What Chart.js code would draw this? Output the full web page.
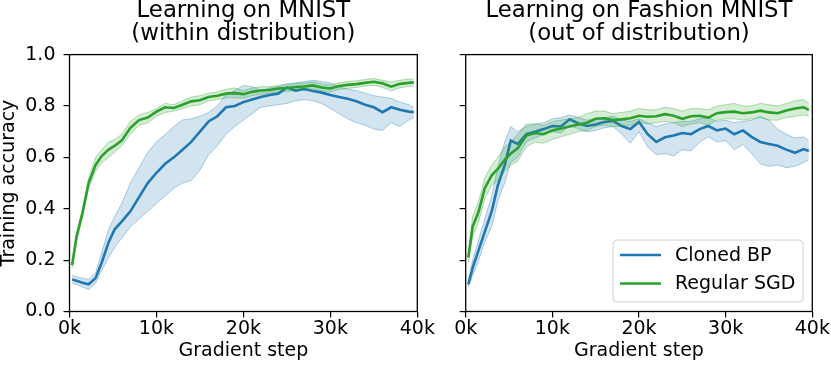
<!DOCTYPE html>
<html>
<head>
<meta charset="utf-8">
<script src="https://cdn.jsdelivr.net/npm/chart.js@4"></script>
<style>
  body { margin: 0; background: #fff; }
  #wrap { position: relative; width: 831px; height: 370px; }
  #wrap canvas { position: absolute; left: 0; top: 0; }
</style>
</head>
<body>
<div id="wrap">
  <canvas id="chart-mnist" width="831" height="370"></canvas>
  <canvas id="chart-fashion" width="831" height="370"></canvas>
</div>
<script>
// gradient steps (x), shared by both panels
var steps = [300, 800, 1500, 2200, 3000, 3700, 4500, 5200, 6000,
  7000, 8000, 9000, 10000, 11000, 12000, 13000, 14000, 15000, 16000,
  17000, 18000, 19000, 20000, 21000, 22000, 23000, 24000, 25000, 26000,
  27000, 28000, 29000, 30000, 31000, 32000, 33000, 34000, 35000, 36000,
  37000, 38000, 39000, 39600];

var xTicks = [0, 10000, 20000, 30000, 40000];
var yTicks = [0, 0.2, 0.4, 0.6, 0.8, 1.0];
var seriesNames = ['Cloned BP', 'Regular SGD'];

// MNIST - Cloned BP
var mnistBpMean = [0.125, 0.12, 0.112, 0.106, 0.13, 0.19, 0.27, 0.32, 0.35,
  0.39, 0.445, 0.50, 0.54, 0.575, 0.60, 0.63, 0.66, 0.70, 0.74,
  0.76, 0.795, 0.80, 0.815, 0.825, 0.835, 0.843, 0.848, 0.872, 0.86,
  0.866, 0.858, 0.852, 0.843, 0.835, 0.828, 0.818, 0.805, 0.795, 0.776,
  0.795, 0.785, 0.778, 0.776];
var mnistBpUpper = [0.14, 0.135, 0.13, 0.125, 0.15, 0.23, 0.32, 0.37, 0.42,
  0.50, 0.56, 0.62, 0.66, 0.69, 0.72, 0.745, 0.75, 0.76, 0.775,
  0.80, 0.845, 0.86, 0.88, 0.875, 0.86, 0.87, 0.875, 0.885, 0.89,
  0.895, 0.90, 0.895, 0.89, 0.875, 0.865, 0.86, 0.85, 0.84, 0.835,
  0.83, 0.815, 0.805, 0.795];
var mnistBpLower = [0.11, 0.105, 0.095, 0.085, 0.11, 0.16, 0.21, 0.25, 0.285,
  0.33, 0.36, 0.39, 0.42, 0.45, 0.48, 0.50, 0.51, 0.55, 0.61,
  0.645, 0.69, 0.72, 0.745, 0.77, 0.795, 0.80, 0.805, 0.81, 0.82,
  0.825, 0.82, 0.81, 0.79, 0.77, 0.75, 0.735, 0.725, 0.71, 0.705,
  0.735, 0.72, 0.745, 0.755];

// MNIST - Regular SGD
var mnistSgdMean = [0.18, 0.29, 0.385, 0.50, 0.57, 0.605, 0.63, 0.645, 0.665,
  0.715, 0.745, 0.755, 0.778, 0.795, 0.792, 0.805, 0.818, 0.822, 0.835,
  0.84, 0.848, 0.85, 0.846, 0.855, 0.86, 0.862, 0.868, 0.87, 0.874,
  0.876, 0.88, 0.872, 0.868, 0.878, 0.882, 0.885, 0.89, 0.894, 0.888,
  0.875, 0.886, 0.89, 0.892];
var mnistSgdUpper = [0.19, 0.30, 0.40, 0.52, 0.60, 0.63, 0.66, 0.67, 0.69,
  0.74, 0.765, 0.775, 0.79, 0.81, 0.805, 0.82, 0.835, 0.84, 0.85,
  0.855, 0.865, 0.87, 0.86, 0.87, 0.875, 0.875, 0.88, 0.885, 0.887,
  0.889, 0.893, 0.886, 0.882, 0.89, 0.895, 0.898, 0.903, 0.907, 0.90,
  0.893, 0.90, 0.905, 0.905];
var mnistSgdLower = [0.17, 0.27, 0.37, 0.48, 0.545, 0.58, 0.60, 0.62, 0.645,
  0.69, 0.725, 0.735, 0.76, 0.775, 0.78, 0.79, 0.80, 0.805, 0.82,
  0.825, 0.832, 0.832, 0.83, 0.84, 0.845, 0.85, 0.855, 0.856, 0.86,
  0.862, 0.866, 0.858, 0.854, 0.865, 0.868, 0.872, 0.877, 0.88, 0.873,
  0.858, 0.871, 0.876, 0.878];

// Fashion MNIST - Cloned BP
var fashionBpMean = [0.105, 0.17, 0.24, 0.31, 0.39, 0.49, 0.57, 0.665, 0.652,
  0.69, 0.70, 0.71, 0.722, 0.72, 0.748, 0.732, 0.722, 0.728, 0.738,
  0.742, 0.722, 0.71, 0.738, 0.69, 0.66, 0.678, 0.685, 0.695, 0.69,
  0.71, 0.722, 0.705, 0.712, 0.69, 0.705, 0.68, 0.66, 0.652, 0.645,
  0.63, 0.618, 0.632, 0.625];
var fashionBpUpper = [0.12, 0.20, 0.28, 0.36, 0.45, 0.56, 0.66, 0.72, 0.70,
  0.72, 0.73, 0.735, 0.75, 0.755, 0.765, 0.755, 0.745, 0.75, 0.755,
  0.76, 0.745, 0.74, 0.75, 0.735, 0.72, 0.73, 0.735, 0.74, 0.74,
  0.75, 0.755, 0.74, 0.745, 0.735, 0.74, 0.745, 0.76, 0.745, 0.71,
  0.69, 0.675, 0.68, 0.665];
var fashionBpLower = [0.095, 0.14, 0.20, 0.27, 0.33, 0.43, 0.50, 0.58, 0.60,
  0.66, 0.675, 0.69, 0.70, 0.695, 0.725, 0.71, 0.70, 0.705, 0.715,
  0.72, 0.69, 0.655, 0.70, 0.64, 0.61, 0.615, 0.605, 0.63, 0.625,
  0.66, 0.68, 0.66, 0.665, 0.63, 0.65, 0.615, 0.575, 0.565, 0.57,
  0.56, 0.565, 0.58, 0.59];

// Fashion MNIST - Regular SGD
var fashionSgdMean = [0.21, 0.33, 0.39, 0.48, 0.53, 0.555, 0.59, 0.615, 0.635,
  0.685, 0.695, 0.69, 0.705, 0.712, 0.72, 0.728, 0.735, 0.75, 0.752,
  0.745, 0.748, 0.752, 0.762, 0.758, 0.76, 0.768, 0.762, 0.75, 0.76,
  0.762, 0.755, 0.772, 0.776, 0.778, 0.772, 0.775, 0.782, 0.775, 0.772,
  0.782, 0.79, 0.795, 0.785];
var fashionSgdUpper = [0.23, 0.37, 0.43, 0.52, 0.57, 0.60, 0.64, 0.66, 0.69,
  0.73, 0.73, 0.725, 0.74, 0.745, 0.75, 0.755, 0.77, 0.78, 0.78,
  0.77, 0.775, 0.78, 0.79, 0.785, 0.785, 0.795, 0.79, 0.78, 0.79,
  0.79, 0.785, 0.80, 0.805, 0.81, 0.80, 0.80, 0.81, 0.805, 0.80,
  0.81, 0.82, 0.825, 0.81];
var fashionSgdLower = [0.19, 0.29, 0.35, 0.44, 0.49, 0.51, 0.545, 0.57, 0.585,
  0.64, 0.66, 0.655, 0.67, 0.68, 0.69, 0.70, 0.705, 0.72, 0.725,
  0.72, 0.72, 0.725, 0.735, 0.73, 0.735, 0.74, 0.735, 0.72, 0.73,
  0.735, 0.725, 0.745, 0.75, 0.75, 0.745, 0.75, 0.755, 0.745, 0.745,
  0.755, 0.76, 0.765, 0.76];

var BLUE = '#1f77b4';
var GREEN = '#2ca02c';
var FONT_SIZE = 19;

Chart.defaults.font.family = '"DejaVu Sans", sans-serif';
Chart.defaults.color = '#000';

function pts(ys) {
  return ys.map(function (y, i) { return { x: steps[i], y: y }; });
}

// band (upper fills to lower) + mean line, for one series
function series(mean, upper, lower, color, fillColor, edgeColor) {
  return [
    { data: pts(mean), borderColor: color, borderWidth: 2.6, pointRadius: 0, fill: false },
    { data: pts(upper), borderColor: edgeColor, borderWidth: 1, pointRadius: 0,
      backgroundColor: fillColor, fill: '+1' },
    { data: pts(lower), borderColor: edgeColor, borderWidth: 1, pointRadius: 0, fill: false }
  ];
}

// matplotlib style box round the axes
var framePlugin = {
  id: 'frame',
  afterDatasetsDraw: function (chart) {
    var a = chart.chartArea, ctx = chart.ctx;
    ctx.save();
    ctx.strokeStyle = '#000';
    ctx.lineWidth = 1.3;
    ctx.strokeRect(a.left, a.top, a.right - a.left, a.bottom - a.top);
    ctx.restore();
  }
};

// legend in lower right of the second panel
var legendPlugin = {
  id: 'boxLegend',
  afterDraw: function (chart) {
    var ctx = chart.ctx;
    var x = 613, y = 240, w = 190, h = 62, r = 4;
    ctx.save();
    ctx.beginPath();
    ctx.roundRect(x, y, w, h, r);
    ctx.fillStyle = 'rgba(255,255,255,0.8)';
    ctx.fill();
    ctx.strokeStyle = '#d0d0d0';
    ctx.lineWidth = 1;
    ctx.stroke();
    var colors = [BLUE, GREEN];
    ctx.font = FONT_SIZE + 'px "DejaVu Sans"';
    ctx.textBaseline = 'middle';
    ctx.textAlign = 'left';
    for (var i = 0; i < seriesNames.length; i++) {
      var ly = y + 15 + i * 28.5;
      ctx.beginPath();
      ctx.moveTo(620, ly);
      ctx.lineTo(661, ly);
      ctx.strokeStyle = colors[i];
      ctx.lineWidth = 2.6;
      ctx.stroke();
      ctx.fillStyle = '#000';
      ctx.fillText(seriesNames[i], 675, ly + 1);
    }
    ctx.restore();
  }
};

function makeOptions(titleLines, padLeft, padRight, yWidth, showYLabels) {
  return {
    responsive: false,
    animation: false,
    layout: { padding: { left: padLeft, right: padRight, top: 0, bottom: 0 } },
    plugins: {
      legend: { display: false },
      tooltip: { enabled: false },
      title: {
        display: true,
        fullSize: false,
        text: titleLines,
        color: '#000',
        font: { size: 22.8, weight: 'normal', lineHeight: 1.0 },
        padding: { top: 0, bottom: 9 }
      }
    },
    elements: { line: { tension: 0 } },
    scales: {
      x: {
        type: 'linear',
        min: 0,
        max: 40000,
        afterBuildTicks: function (s) { s.ticks = xTicks.map(function (v) { return { value: v }; }); },
        afterFit: function (s) { s.height = 58.5; },
        ticks: {
          autoSkip: false,
          maxRotation: 0,
          padding: 0,
          font: { size: FONT_SIZE },
          callback: function (v) { return (v / 1000) + 'k'; }
        },
        grid: { display: true, drawOnChartArea: false, drawTicks: true, tickLength: 6, color: '#000', lineWidth: 1.2 },
        border: { display: false },
        title: { display: true, text: 'Gradient step', font: { size: FONT_SIZE }, padding: { top: 0, bottom: 7.5 } }
      },
      y: {
        min: 0,
        max: 1,
        afterBuildTicks: function (s) { s.ticks = yTicks.map(function (v) { return { value: v }; }); },
        afterFit: function (s) { s.width = yWidth; },
        ticks: {
          display: showYLabels,
          padding: 8,
          font: { size: FONT_SIZE },
          callback: function (v) { return v.toFixed(1); }
        },
        grid: { display: true, drawOnChartArea: false, drawTicks: true, tickLength: 6, color: '#000', lineWidth: 1.2 },
        border: { display: false },
        title: { display: showYLabels, text: 'Training accuracy', font: { size: FONT_SIZE, lineHeight: 1.0 }, padding: 0 }
      }
    }
  };
}

function makeData(bpMean, bpUp, bpLow, sgdMean, sgdUp, sgdLow) {
  // first dataset is drawn on top, so SGD goes first
  return {
    datasets: series(sgdMean, sgdUp, sgdLow, GREEN, 'rgba(44,160,44,0.2)', 'rgba(44,160,44,0.35)')
      .concat(series(bpMean, bpUp, bpLow, BLUE, 'rgba(31,119,180,0.2)', 'rgba(31,119,180,0.35)'))
  };
}

// 左圖: MNIST
var ctx = document.getElementById('chart-mnist').getContext('2d');
var mnistChart = new Chart(ctx, {
  type: 'line',
  data: makeData(mnistBpMean, mnistBpUpper, mnistBpLower, mnistSgdMean, mnistSgdUpper, mnistSgdLower),
  options: makeOptions(['Learning on MNIST', '(within distribution)'], 0, 413.7, 69.5, true),
  plugins: [framePlugin]
});

// 右圖: Fashion MNIST
var ctx2 = document.getElementById('chart-fashion').getContext('2d');
var fashionChart = new Chart(ctx2, {
  type: 'line',
  data: makeData(fashionBpMean, fashionBpUpper, fashionBpLower, fashionSgdMean, fashionSgdUpper, fashionSgdLower),
  options: makeOptions(['Learning on Fashion MNIST', '(out of distribution)'], 425, 18.7, 40.7, false),
  plugins: [framePlugin, legendPlugin]
});
</script>
</body>
</html>
